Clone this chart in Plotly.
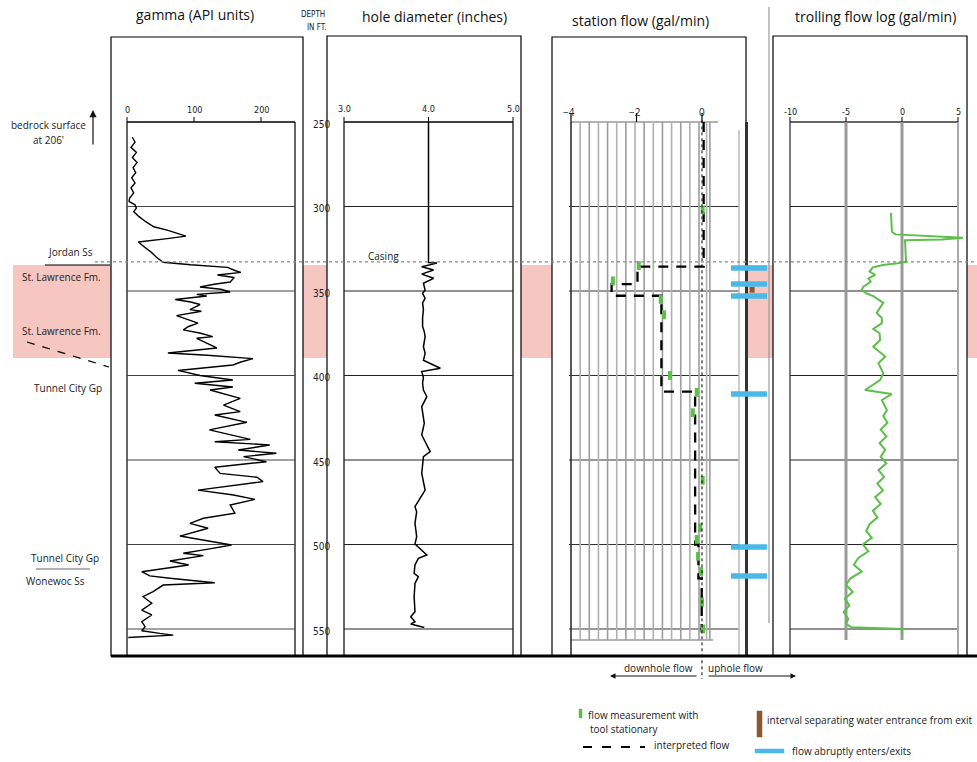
import plotly.graph_objects as go

# ------------------------------------------------------------------ data
depth_ticks = [250, 300, 350, 400, 450, 500, 550]
gamma_ticks = [0, 100, 200]
hole_ticks = [3.0, 4.0, 5.0]
station_ticks = [-4, -2, 0]
troll_ticks = [-10, -5, 0, 5]

gamma_depth = [259, 262, 265, 268, 271, 274, 277, 280, 283, 286, 289, 292, 295, 297, 299,
               301, 303, 306, 309, 312, 314, 316, 317.5, 319, 321, 324, 327, 330, 333, 334.5,
               336, 338, 339, 340.5, 342, 344.7, 346, 347.6, 349, 350.6, 352, 353, 355, 356.5,
               358, 361, 362, 364.6, 367, 369, 371, 373, 375, 377, 378, 381, 383.7, 386.7, 388,
               390, 392, 393.8, 397, 400, 402.7, 404.6, 406.8,
               408.6, 413.5, 417.5, 421.4, 423.4, 427.7, 432.2, 435.2, 437.8, 439.2, 441.1,
               444.1, 446, 448, 451, 454.3, 457.9, 460.2, 462.8, 467.8, 470.7, 473.3, 476.6,
               481.5, 484.5, 487.5, 490.4, 495, 498.3, 500.3, 502.9, 505.2, 506.6, 509.8,
               512.1, 516.1, 518.6, 520, 522.6, 524, 527.9, 530.9, 534.8, 538.8, 541.7, 545.7,
               548.6, 551, 552.6, 553.6, 555]
gamma_api = [8, 12, 6, 14, 8, 15, 9, 13, 7, 12, 6, 10, 4, 3, 12,
             14, 10, 18, 28, 40, 60, 75, 88, 60, 17, 26, 36, 44, 54, 95,
             150, 162, 170, 135, 160, 154, 130, 109, 140, 154, 104, 119, 72, 95,
             109, 94, 111, 74, 90, 106, 92, 84, 110, 128, 104, 120, 134, 61, 120,
             188, 170, 158, 76, 109, 158, 101, 158,
             124, 169, 144, 169, 131, 179, 123, 154, 184, 131, 213,
             166, 223, 174, 208, 131, 139, 194, 203, 106, 159, 191, 154,
             161, 114, 94, 121, 79, 124, 156, 119, 84, 114, 64,
             92, 22, 34, 64, 131, 54, 39, 24, 37, 22, 37, 22,
             27, 22, 49, 69, 2]

hole_depth = [250, 333.2, 333.5, 335.6, 337.6, 340, 342.5, 345.4, 349.4, 351.4, 354.4, 357,
              361, 366, 371, 374, 377, 383, 386.9, 391, 395.7, 397.7, 401, 404.6,
              408.6, 412.5, 418.4, 428.3, 435.2, 440.1, 445, 448, 457.9, 467.8, 477.6, 480.6,
              487.5, 495.4, 499.7, 506.2, 508.2, 512.1, 517.1, 519, 523, 530.9, 539.8, 542.7,
              545.7, 547.1, 549.1]
hole_in = [4.0, 4.0, 4.10, 3.92, 4.06, 3.92, 4.06, 3.94, 3.96, 3.93, 3.96, 3.93,
           3.94, 3.93, 3.93, 3.95, 3.96, 3.94, 3.96, 3.94, 4.14, 3.92, 3.94, 3.93,
           3.94, 3.98, 3.92, 3.95, 3.92, 3.97, 4.02, 3.94, 3.92, 3.96, 3.84, 3.86,
           3.84, 3.86, 3.84, 3.98, 3.88, 3.84, 3.83, 3.88, 3.84, 3.83, 3.84, 3.79,
           3.84, 3.79, 3.95]

# station flow: measurements with tool stationary
meas_depth = [302, 335, 344, 355, 364, 400, 410, 422, 462, 490, 497, 507, 516, 534, 550]
meas_flow = [0.02, -1.93, -2.72, -1.26, -1.16, -0.98, -0.16, -0.28, 0.02, -0.06, -0.16,
             -0.12, -0.03, 0.0, 0.03]
# interpreted flow (step profile)
interp_depth = [250, 335.6, 335.6, 345.9, 345.9, 352.8, 352.8, 409.5, 409.5, 500, 500,
                520, 520, 552]
interp_flow = [0.05, 0.05, -1.97, -1.97, -2.76, -2.76, -1.24, -1.24, -0.21, -0.21, -0.11,
               -0.11, -0.01, -0.01]
# depths where flow abruptly enters / exits
zone_depth = [336.4, 345.9, 353.0, 411.0, 501.5, 518.6]
# interval separating water entrance from exit
sep_top, sep_bot = 347.6, 351.0

troll_depth = [303.8, 315, 316.5, 317, 317.5, 318.5, 319.5, 320, 332.7, 333.6, 334.6, 336,
               338.5, 340.5, 342.5, 344.5, 347.5, 349.4, 351.5, 353, 357, 360, 363, 366, 369,
               372.5, 375, 379, 383, 388.8, 392.7, 398.7, 402.7, 408.6, 411, 414.5, 420.5,
               424, 428, 432, 436, 440, 444, 448, 452, 456, 460, 464, 468, 472, 476, 480,
               484, 488, 492, 496, 500, 504, 508, 512, 516, 520, 524, 528, 532, 536, 540,
               544, 547, 549, 549.5, 550, 553]
troll_flow = [-0.98, -0.9, -0.6, 0.87, 3.55, 5.45, 3.55, 0.27, 0.36, -0.36, -1.7, -2.6,
              -2.9, -2.4, -3.0, -2.8, -3.45, -3.6, -3.15, -2.56, -1.67, -2.0, -2.26, -1.8, -1.8,
              -2.56, -2.0, -1.96, -2.56, -1.5, -2.1, -1.67, -1.96, -3.3, -0.92, -1.8, -1.35,
              -1.67, -1.3, -1.9, -1.4, -2.0, -1.5, -1.9, -1.4, -2.1, -1.6, -2.2, -1.7, -2.4,
              -1.9, -2.6, -2.2, -2.9, -3.2, -2.7, -3.5, -3.0, -3.9, -4.3, -3.6, -4.6, -5.0,
              -4.4, -5.1, -4.7, -5.2, -4.8, -5.0, -4.5, -1.0, 0.0, 0.0]

pink_top, pink_bot = 334.6, 389.6
casing_depth = 332.8
formations = [("Jordan Ss", 70, 252), ("St. Lawrence Fm.", 62, 277),
              ("St. Lawrence Fm.", 62, 331), ("Tunnel City Gp", 68, 388),
              ("Tunnel City Gp", 65, 558), ("Wonewoc Ss", 55, 581)]

# ------------------------------------------------------------------ geometry
W, H = 977, 762
Y250, PPF = 122.0, 1.69          # pixel row of 250 ft, pixels per foot


def X(p):
    return p / W


def Y(p):
    return 1 - p / H


def xr(v0, p0, ppu):
    return [v0 - p0 / ppu, v0 + (W - p0) / ppu]


y_range = [250 + (H - Y250) / PPF, 250 - Y250 / PPF]


def depth_at(p):
    return 250 + (p - Y250) / PPF


COND = "Liberation Sans Narrow, DejaVu Sans Condensed, Arial Narrow, sans-serif"
MAIN = "Open Sans, Noto Sans, sans-serif"
GREEN = "#5cbf4a"
BLUE = "#4cb8e8"
BROWN = "#8b5a2b"

shapes = []
ann = []


def pline(x0, y0, x1, y1, color="black", width=1, dash=None, layer="above"):
    d = dict(type="line", xref="paper", yref="paper", x0=X(x0), x1=X(x1), y0=Y(y0), y1=Y(y1),
             line=dict(color=color, width=width), layer=layer)
    if dash:
        d["line"]["dash"] = dash
    shapes.append(d)


def prect(x0, y0, x1, y1, fill="white", color="black", width=1.2, layer="below"):
    shapes.append(dict(type="rect", xref="paper", yref="paper", x0=X(x0), x1=X(x1),
                       y0=Y(y0), y1=Y(y1), fillcolor=fill,
                       line=dict(color=color, width=width), layer=layer))


def dline(x0, x1, d, color="black", width=1, layer="below"):
    shapes.append(dict(type="line", xref="paper", yref="y", x0=X(x0), x1=X(x1), y0=d, y1=d,
                       line=dict(color=color, width=width), layer=layer))


def text(s, x, y, size=11, family=MAIN, color="#222", xanchor="center"):
    ann.append(dict(text=s, x=X(x), y=Y(y), xref="paper", yref="paper", showarrow=False,
                    font=dict(size=size, family=family, color=color), xanchor=xanchor,
                    yanchor="middle"))


def arrow(xh, yh, xt, yt, width=1.1, head=2, size=1.0):
    ann.append(dict(x=X(xh), y=Y(yh), ax=xt - xh, ay=yt - yh, xref="paper", yref="paper",
                    axref="pixel", ayref="pixel", text="", showarrow=True, arrowhead=head,
                    arrowsize=size, arrowwidth=width, arrowcolor="#111"))


# pink band (formation) behind everything
shapes.append(dict(type="rect", xref="paper", yref="y", x0=X(13), x1=X(977), y0=pink_top,
                   y1=pink_bot, fillcolor="#f6c6c1", line=dict(width=0), layer="below"))

# panel boxes
prect(111, 37, 303, 656)
prect(327, 36, 521, 656)
prect(552, 37, 746, 656)
prect(773, 36, 967, 656)

# ---- gamma panel
pline(127, 122, 295, 122, width=1.5, layer="below")
pline(127, 122, 127, 656, width=1.2, layer="below")
pline(295, 122, 295, 656, width=1.2, layer="below")
for d in depth_ticks[1:]:
    dline(127, 295, d, color="#444", width=1)
for t in gamma_ticks:
    shapes.append(dict(type="line", xref="x", yref="paper", x0=t, x1=t, y0=Y(117), y1=Y(122),
                       line=dict(color="black", width=1)))
    ann.append(dict(text=str(t), x=t, y=Y(103), xref="x", yref="paper", showarrow=False,
                    font=dict(size=9, family=COND, color="#222")))

# ---- hole diameter panel
pline(344, 122, 513, 122, width=1.5, layer="below")
pline(344, 122, 344, 656, width=1.2, layer="below")
pline(513, 122, 513, 656, width=1.2, layer="below")
for d in depth_ticks[1:]:
    dline(344, 513, d, color="#222", width=1)
for t in hole_ticks:
    shapes.append(dict(type="line", xref="x2", yref="paper", x0=t, x1=t, y0=Y(117), y1=Y(122),
                       line=dict(color="black", width=1)))
    ann.append(dict(text=f"{t:.1f}", x=t, y=Y(102), xref="x2", yref="paper", showarrow=False,
                    font=dict(size=9, family=COND, color="#222")))

# ---- depth column labels
for d in depth_ticks:
    ann.append(dict(text=str(d), x=X(311), y=d, xref="paper", yref="y", showarrow=False,
                    yshift=-2, font=dict(size=10, family=COND, color="#222")))
text("DEPTH", 312.5, 15, size=8, family=COND)
text("IN FT.", 317, 28, size=8, family=COND)

# ---- station flow panel
grid_vals = [-4 + 0.2792 * k for k in range(1, 15)] + [0.14, 0.24]
for i, g in enumerate(grid_vals):
    shapes.append(dict(type="line", xref="x3", yref="y", x0=g, x1=g, y0=250,
                       y1=depth_at(640), line=dict(color="#9c9c9c" if i % 2 else "#b0b0b0",
                                                   width=1.6), layer="below"))
pline(571, 122, 718, 122, color="#999", width=1.5, layer="below")
pline(571, 640, 713, 640, color="#999", width=1.5, layer="below")
pline(571, 122, 571, 656, width=1.3, layer="below")
for d in depth_ticks[1:]:
    dline(569, 739, d, color="#333", width=1)
pline(739, 130, 739, 656, color="#bbb", width=1.5, layer="below")
pline(746.5, 122, 746.5, 656, color="#333", width=3, layer="below")
pline(769, 7, 769, 623, color="#999", width=1.2, layer="below")
shapes.append(dict(type="line", xref="x3", yref="y", x0=0, x1=0, y0=249,
                   y1=depth_at(679), line=dict(color="black", width=1, dash="dot"),
                   layer="above"))
for t in station_ticks:
    shapes.append(dict(type="line", xref="x3", yref="paper", x0=t, x1=t, y0=Y(113), y1=Y(122),
                       line=dict(color="black", width=1.2)))
    ann.append(dict(text=("−" if t < 0 else "") + str(abs(t)), x=t, y=Y(103), xref="x3",
                    yref="paper", showarrow=False, xshift=-2 if t < 0 else 0,
                    font=dict(size=10, family=MAIN, color="#222")))

# ---- trolling panel
for d in depth_ticks[1:]:
    dline(790, 958, d, color="#222", width=1.2)
pline(790, 122, 958, 122, color="#333", width=1.5, layer="below")
for t in troll_ticks:
    col, wd, yb = {-10: ("#333", 1.3, 656), -5: ("#999", 3, 640), 0: ("#999", 3, 640),
                   5: ("#aaa", 2, 656)}[t]
    shapes.append(dict(type="line", xref="x4", yref="paper", x0=t, x1=t, y0=Y(122), y1=Y(yb),
                       line=dict(color=col, width=wd), layer="below"))
    shapes.append(dict(type="line", xref="x4", yref="paper", x0=t, x1=t, y0=Y(117), y1=Y(122),
                       line=dict(color="black", width=1)))
    ann.append(dict(text=str(t), x=t, y=Y(105), xref="x4", yref="paper", showarrow=False,
                    font=dict(size=9, family=COND, color="#222")))

# casing / top of St. Lawrence dotted line
shapes.append(dict(type="line", xref="paper", yref="y", x0=X(95), x1=X(977), y0=casing_depth,
                   y1=casing_depth, line=dict(color="#888", width=1.2, dash="dot"),
                   layer="above"))
text("Casing", 383, 256, size=10)

# bottom line
pline(111, 656, 977, 656, width=2.8)

# left annotations
text("bedrock surface", 48, 125, size=10)
text("at 206'", 48, 140, size=10)
arrow(93, 110, 93, 146, width=1.2, size=1.2)
for s, x, y in formations:
    text(s, x, y, size=10)
pline(45, 265, 110, 265, width=1.2)
pline(27, 342, 109, 367, width=1.3, dash="8px,8px")
pline(36, 569, 90, 569, color="#666", width=1)

# titles
text("gamma (API units)", 195, 15, size=14, color="#111")
text("hole diameter (inches)", 434, 16, size=14, color="#111")
text("station flow (gal/min)", 640, 20, size=14, color="#111")
text("trolling flow log (gal/min)", 875, 16, size=14, color="#111")

# flow direction arrows
text("downhole flow", 658, 668, size=10)
text("uphole flow", 735, 668, size=10)
arrow(610, 676, 698, 676)
arrow(796, 676, 707, 676)

# legend
prect(579, 709, 582, 718, fill=GREEN, color=GREEN, width=0.5, layer="above")
text("flow measurement with", 586, 715, size=10, xanchor="left")
text("tool stationary", 588, 729, size=10, xanchor="left")
pline(583, 747, 645, 747, width=2.2, dash="9px,10px")
text("interpreted flow", 652, 745, size=10, xanchor="left")
prect(757, 711, 762, 737, fill=BROWN, color=BROWN, width=0.5, layer="above")
text("interval separating water entrance from exit", 765, 720, size=10, xanchor="left")
prect(755, 749, 784, 753, fill=BLUE, color=BLUE, width=0.5, layer="above")
text("flow abruptly enters/exits", 790, 751, size=10, xanchor="left")

# ------------------------------------------------------------------ traces
fig = go.Figure()
fig.add_trace(go.Scatter(x=gamma_api, y=gamma_depth, mode="lines", xaxis="x", yaxis="y",
                         line=dict(color="black", width=1.4), hoverinfo="skip"))
fig.add_trace(go.Scatter(x=hole_in, y=hole_depth, mode="lines", xaxis="x2", yaxis="y",
                         line=dict(color="black", width=1.5), hoverinfo="skip"))
fig.add_trace(go.Scatter(x=interp_flow, y=interp_depth, mode="lines", xaxis="x3", yaxis="y",
                         line=dict(color="black", width=2.3, dash="10px,8px"),
                         hoverinfo="skip"))
mx, my = [], []
for d, f in zip(meas_depth, meas_flow):
    mx += [f, f, None]
    my += [d - 2.6, d + 2.6, None]
fig.add_trace(go.Scatter(x=mx, y=my, mode="lines", xaxis="x3", yaxis="y",
                         line=dict(color=GREEN, width=4), hoverinfo="skip"))
zx, zy = [], []
for d in zone_depth:
    zx += [0.885, 1.985, None]
    zy += [d, d, None]
fig.add_trace(go.Scatter(x=zx, y=zy, mode="lines", xaxis="x3", yaxis="y",
                         line=dict(color=BLUE, width=5.5), hoverinfo="skip"))
fig.add_trace(go.Scatter(x=[1.53, 1.53], y=[sep_top, sep_bot], mode="lines", xaxis="x3",
                         yaxis="y", line=dict(color=BROWN, width=5), hoverinfo="skip"))
fig.add_trace(go.Scatter(x=troll_flow, y=troll_depth, mode="lines", xaxis="x4", yaxis="y",
                         line=dict(color=GREEN, width=2), hoverinfo="skip"))

hidden = dict(visible=False, fixedrange=True, domain=[0, 1])
fig.update_layout(
    width=W, height=H, margin=dict(l=0, r=0, t=0, b=0),
    paper_bgcolor="white", plot_bgcolor="white", showlegend=False,
    xaxis=dict(range=xr(0, 127, 0.67), **hidden),
    xaxis2=dict(range=xr(3.0, 344, 84.5), overlaying="x", anchor="y", **hidden),
    xaxis3=dict(range=xr(0, 702, 32.75), overlaying="x", anchor="y", **hidden),
    xaxis4=dict(range=xr(0, 902, 11.2), overlaying="x", anchor="y", **hidden),
    yaxis=dict(range=y_range, visible=False, fixedrange=True, domain=[0, 1]),
    shapes=shapes, annotations=ann,
)

fig.write_html("out.html", config={"displayModeBar": False, "staticPlot": True},
               post_script="document.body.style.margin='0px';"
                           "document.body.style.overflow='hidden';")
